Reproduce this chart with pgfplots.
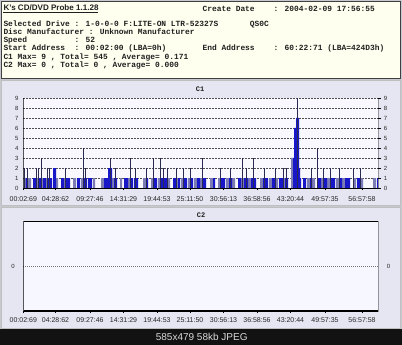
\documentclass[border=0pt]{standalone}
\usepackage{pgfplots}
\pgfplotsset{compat=1.18}
\usepackage{fontspec}
\usepackage{graphicx}
\setmainfont{Liberation Sans}
\newfontfamily\mono{Liberation Mono}
\definecolor{frame}{HTML}{C8C8D0}
\definecolor{panel}{HTML}{E6E6F2}
\definecolor{plotbg}{HTML}{F8F8FE}
\definecolor{hdr}{HTML}{FFFFF0}
\definecolor{cdblue}{HTML}{1818C8}
\definecolor{cdgray}{HTML}{7C7CB4}
\definecolor{cdline}{HTML}{2A2A50}
\definecolor{txt}{HTML}{202020}
\newsavebox\hdrbox
% column-based monospace text: \hl{col}{baseline y}{text}
\newcommand\hl[3]{\node[anchor=base west,inner sep=0pt,text=txt,font=\mono\bfseries\fontsize{7.9}{9}\selectfont] at ({3.3+#1*4.74},-#2) {#3};}
\pgfplotsset{
  cdaxis/.style={
    scale only axis, width=355pt,
    xmin=23.3, xmax=378.3,
    /pgf/number format/assume math mode=true,
    axis line style={draw=none},
    xtick={23.3,55.5,90,123.5,157,190,223.5,257,290.5,325,362},
    xticklabels={00:02:69,04:28:62,09:27:46,14:31:29,19:44:53,25:11:50,30:56:13,36:58:56,43:20:44,49:57:35,56:57:58},
    xticklabel style={font=\fontsize{7}{7}\selectfont, text=black!85},
    yticklabel style={font=\fontsize{6}{6}\selectfont, text=black!85},
    tick align=outside, major tick length=2pt,
    xtick pos=bottom,
    xtick style={black, line width=0.4pt},
    ytick style={draw=none},
  },
  rightlab/.style={
    scale only axis, width=355pt,
    xmin=23.3, xmax=378.3,
    /pgf/number format/assume math mode=true,
    axis line style={draw=none},
    xtick=\empty,
    ytick pos=right, yticklabel pos=right,
    tick align=outside, major tick length=2.5pt,
    ytick style={black, line width=0.5pt},
    yticklabel style={font=\fontsize{6}{6}\selectfont, text=black!85, xshift=-0.5pt},
  }
}
\begin{document}
\begin{tikzpicture}[x=1pt,y=1pt]
% background and panels
\fill[frame] (0,0) rectangle (402,-345);
\fill[black!93] (0,-328.5) rectangle (402,-345);
\filldraw[fill=hdr, draw=black!75, line width=0.8pt] (1.5,-1.5) rectangle (400.5,-78.3);
\filldraw[fill=panel, draw=black!25, line width=0.5pt] (1.5,-80) rectangle (400.5,-205);
\filldraw[fill=panel, draw=black!25, line width=0.5pt] (1.5,-207.5) rectangle (400.5,-328.5);
% header text
\node[anchor=base west,inner sep=0pt,text=txt] at (3.3,-10.5) {\sbox\hdrbox{\bfseries\fontsize{8}{9}\selectfont K's CD/DVD Probe 1.1.28}\scalebox{\fpeval{95/\wd\hdrbox}}[1]{\usebox\hdrbox}};
\draw[txt, line width=0.6pt] (3.3,-12) -- (98.3,-12);
\hl{42}{11.2}{Create Date}
\hl{57}{11.2}{: 2004-02-09 17:56:55}
\hl{0}{27}{Selected Drive : 1-0-0-0 F:LITE-ON LTR-52327S}
\hl{52}{27}{QS0C}
\hl{0}{35}{Disc Manufacturer : Unknown Manufacturer}
\hl{0}{42.8}{Speed}
\hl{15}{42.8}{: 52}
\hl{0}{51}{Start Address}
\hl{15}{51}{: 00:02:00 (LBA=0h)}
\hl{42}{51}{End Address}
\hl{57}{51}{: 60:22:71 (LBA=424D3h)}
\hl{0}{59.4}{C1 Max= 9 , Total= 545 , Average= 0.171}
\hl{0}{67.7}{C2 Max= 0 , Total= 0 , Average= 0.000}
% panel titles
\node[text=txt, font=\mono\bfseries\fontsize{7}{7}\selectfont] at (200,-89) {C1};
\node[text=txt, font=\mono\bfseries\fontsize{7}{7}\selectfont] at (201,-215.5) {C2};
% bottom caption
\node[text=black!15, font=\fontsize{10}{10}\selectfont] at (201.7,-336.5) {585x479 58kb JPEG};

% ---------------- C1 ----------------
\begin{axis}[cdaxis,
  at={(23.3pt,-188pt)}, anchor=south west, height=90pt,
  ymin=0, ymax=9, ytick={0,...,9},
  axis background/.style={fill=plotbg},
  ymajorgrids, grid style={black!70, line width=0.45pt, dash pattern=on 1.6pt off 1.4pt},
  xticklabel style={yshift=-3pt},
  yticklabel style={xshift=0.8pt},
]
% height-1 band, gray
\addplot[const plot, fill=cdgray, draw=none] coordinates {
(23.3,0)(24,1)(26,0)(28,1)(31,0)(36,1)(38,0)(41,1)(43,0)(46,1)(48,0)(56,1)(58,0)
(64,1)(66,0)(73,1)(76,0)(81,1)(84,0)(93,1)(95,0)(101,1)(104,0)(112,1)(114,0)
(120,1)(122,0)(128,1)(130,0)(143,1)(146,0)(151,1)(154,0)(158,1)(161,0)(167,1)(170,0)
(176,1)(178,0)(181,1)(184,0)(188,1)(190,0)(194,1)(197,0)(200,1)(203,0)(210,1)(213,0)
(218,1)(221,0)(226,1)(229,0)(232,1)(235,0)(241,1)(244,0)(248,1)(251,0)(260,1)(263,0)
(269,1)(272,0)(275,1)(278,0)(283,1)(285,0)(291,3)(293,0)(307,1)(310,0)(312,1)(315,0)
(321,1)(324,0)(327,1)(330,0)(336,1)(339,0)(342,1)(345,0)(353,1)(356,0)(360,1)(363,0)
(373,1)(376,0)(378.3,0)} \closedcycle;
% height-1 band, blue (and blue blocks)
\addplot[const plot, fill=cdblue, draw=none] coordinates {
(23.3,0)(26,1)(28,0)(33,1)(36,0)(38,1)(41,0)(43,1)(46,0)(48,1)(52,0)(53,2)(56,0)
(61,1)(64,0)(66,1)(70,0)(77,1)(80,0)(84,1)(87,0)(88,1)(92,0)(104,1)(108,2)(112,0)
(114,1)(117,0)(124,1)(128,0)(130,1)(133,0)(134,1)(138,0)(146,1)(148,0)(154,1)(157,0)
(161,1)(163,0)(164,1)(167,0)(173,1)(176,0)(178,1)(180,0)(184,1)(187,0)(190,1)(193,0)
(197,1)(200,0)(203,1)(206,0)(213,1)(215,0)(221,1)(225,0)(229,1)(232,0)(238,1)(241,0)
(244,1)(248,0)(251,1)(256,0)(263,1)(268,0)(272,1)(275,0)(279,1)(283,0)(285,1)(288,0)
(293,3)(294,6)(296,7)(299,2)(300,1)(301,0)(303,1)(306,0)(310,1)(312,0)(318,1)(321,0)
(324,1)(327,0)(331,1)(335,0)(339,1)(342,0)(345,1)(350,0)(357,1)(360,0)(377,1)(378,0)
(378.3,0)} \closedcycle;
% thin taller bars
\addplot[ycomb, cdline, line width=0.9pt, mark=none] coordinates {
(24.5,2)(27.5,2)(36.5,2)(38.5,2)(41.5,3)(47,2)(49.5,2)(65,2)(83,4)(85.5,2)
(110,3)(115.5,2)(130,3)(135.5,2)(146,2)(153,3)(160.5,3)(163.5,2)(167.5,2)
(176.5,2)(183,2)(190.5,2)(202,3)(220,2)(230,2)(242.5,3)(246.5,2)(253,3)
(264.5,2)(275.5,2)(283.5,2)(286.5,2)(297.6,9)(311,2)(317,4)(323,2)(330,2)
(339.5,2)(353,2)(360.5,2)};
\draw[black, line width=0.9pt] (rel axis cs:0,0) -- (rel axis cs:0,1);
\draw[black, line width=0.9pt] (rel axis cs:1,0) -- (rel axis cs:1,1);
\draw[black, line width=0.6pt] (rel axis cs:0,0) -- (rel axis cs:1,0);
\end{axis}
\begin{axis}[rightlab,
  at={(23.3pt,-188pt)}, anchor=south west, height=90pt,
  ymin=0, ymax=9, ytick={0,...,9}]
\addplot[draw=none] coordinates {(23.3,0)};
\end{axis}

% ---------------- C2 ----------------
\begin{axis}[cdaxis,
  at={(23.3pt,-311pt)}, anchor=south west, height=90pt,
  ymin=-1, ymax=1, ytick={0},
  axis background/.style={fill=white!97!blue},
  ymajorgrids, grid style={black!55, line width=0.5pt, dash pattern=on 0.8pt off 1.2pt},
  xticklabel style={yshift=-1pt},
  yticklabel style={xshift=-3pt},
]
\addplot[draw=none] coordinates {(23.3,0)};
\draw[black, line width=1.4pt] (rel axis cs:0,0) rectangle (rel axis cs:1,1);
\end{axis}
\begin{axis}[rightlab,
  at={(23.3pt,-311pt)}, anchor=south west, height=90pt,
  ymin=-1, ymax=1, ytick={0}, ytick style={draw=none},
  yticklabel style={xshift=3pt}]
\addplot[draw=none] coordinates {(23.3,0)};
\end{axis}
\end{tikzpicture}
\end{document}
